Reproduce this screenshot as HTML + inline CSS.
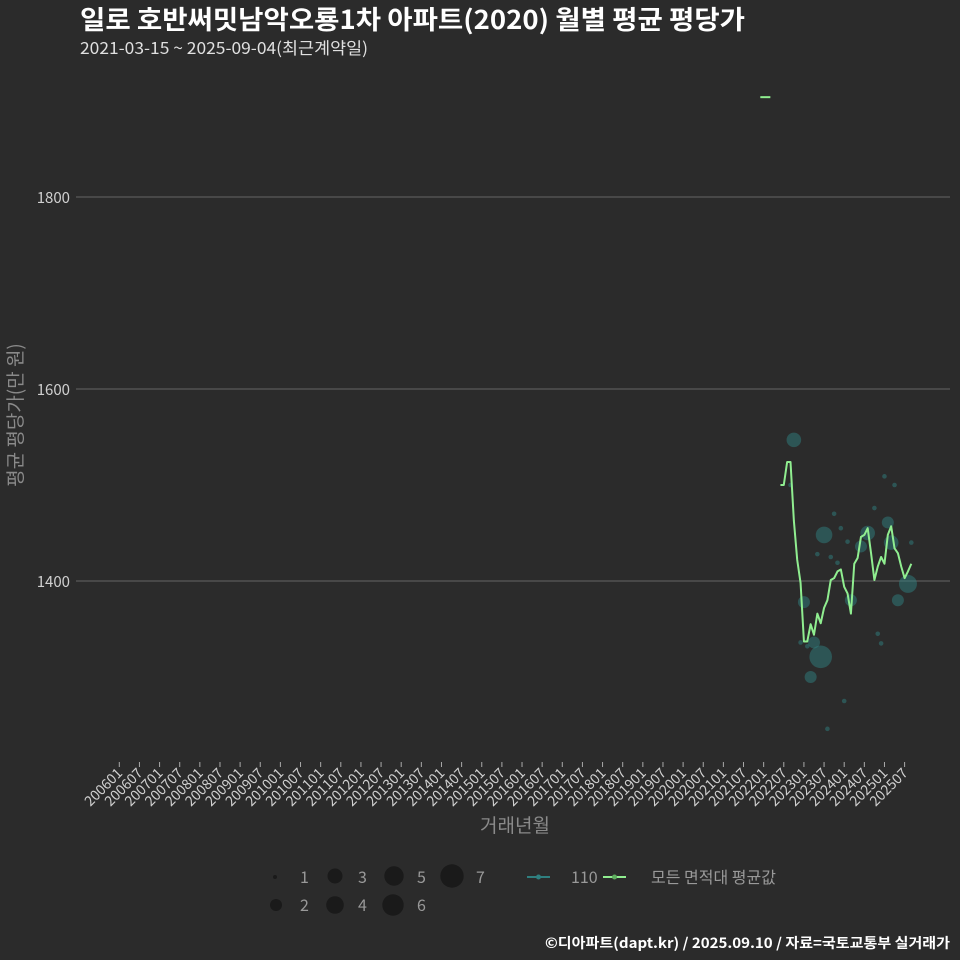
<!DOCTYPE html>
<html><head><meta charset="utf-8">
<style>
body{margin:0;background:#2b2b2b;}
svg{display:block;font-family:"Noto Sans CJK KR","Liberation Sans",sans-serif;}
</style></head>
<body>
<svg id="chart" width="960" height="960" viewBox="0 0 960 960">
<rect width="960" height="960" fill="#2b2b2b"/>
<text x="80" y="29" fill="#ffffff" font-size="26" font-weight="bold" textLength="665" lengthAdjust="spacingAndGlyphs">일로 호반써밋남악오룡1차 아파트(2020) 월별 평균 평당가</text>
<text x="80" y="54" fill="#e0e0e0" font-size="16.5" textLength="288" lengthAdjust="spacingAndGlyphs">2021-03-15 ~ 2025-09-04(최근계약일)</text>
<g id="grid"></g>
<g id="xaxis"></g>
<g id="bubbles"></g>
<g id="lines"></g>
<text transform="translate(22,415) rotate(-90)" text-anchor="middle" fill="#8a8a8a" font-size="19">평균 평당가(만 원)</text>
<text x="515" y="832" text-anchor="middle" fill="#8a8a8a" font-size="19">거래년월</text>
<g id="legend" font-size="16" fill="#999">
<g><circle cx="275" cy="877" r="2" fill="#1a1a1a"/><text x="300" y="883">1</text></g>
<g><circle cx="276" cy="905" r="6" fill="#1a1a1a"/><text x="300" y="911">2</text></g>
<g><circle cx="335" cy="876" r="7.5" fill="#1a1a1a"/><text x="358" y="883">3</text></g>
<g><circle cx="335" cy="905" r="8.8" fill="#1a1a1a"/><text x="358" y="911">4</text></g>
<g><circle cx="394" cy="876" r="9.7" fill="#1a1a1a"/><text x="417" y="883">5</text></g>
<g><circle cx="393" cy="905" r="10.7" fill="#1a1a1a"/><text x="417" y="911">6</text></g>
<g><circle cx="452" cy="876" r="11.7" fill="#1a1a1a"/><text x="476" y="883">7</text></g>
<g><line x1="527" y1="877" x2="550" y2="877" stroke="#2f7f7f" stroke-width="2"/><circle cx="538.5" cy="877" r="2.5" fill="#2f7f7f"/><text x="571" y="883">110</text></g>
<g><line x1="603" y1="877" x2="626" y2="877" stroke="#90ee90" stroke-width="2"/><circle cx="614.5" cy="877" r="2.5" fill="#5fae5f"/><text x="651" y="883">모든 면적대 평균값</text></g>
</g>
<text x="950" y="948" text-anchor="end" fill="#ffffff" font-size="14" font-weight="bold" textLength="405" lengthAdjust="spacingAndGlyphs">©디아파트(dapt.kr) / 2025.09.10 / 자료=국토교통부 실거래가</text>
</svg>
<script>
const yTicks=[1400,1600,1800];
const lineStart='2022-06';
const lineValues=[1500,1500,1524,1524,1463,1422,1398,1337,1337,1355,1344,1366,1356,1372,1380,1401,1403,1410,1412,1394,1387,1366,1418,1424,1446,1448,1455,1429,1401,1415,1425,1418,1448,1457,1434,1429,1415,1403,1410,1418];
const topMonths=['2021-12','2022-03'];
const topValues=[1904,1904];
const bubbleMonths=['2022-10','2022-09','2023-10','2023-12','2023-07','2024-02','2023-05','2023-09','2023-11','2025-01','2025-04','2024-10','2025-02','2024-08','2024-06','2025-03','2025-09','2025-08','2023-01','2024-03','2025-05','2024-11','2024-12','2022-12','2023-02','2023-04','2023-06','2023-03','2024-01','2023-08'];
const bubbleValues=[1547,1500,1470,1455,1448,1441,1428,1425,1419,1509,1500,1476,1461,1450,1436,1440,1440,1397,1378,1380,1380,1345,1335,1336,1332,1336,1321,1300,1275,1246];
const bubbleCounts=[3,1,1,1,4,1,1,1,1,1,1,1,2,3,2,3,1,5,2,2,2,1,1,1,1,2,7,2,1,1];
const NS='http://www.w3.org/2000/svg';
const radii=[0,2.3,6,7.3,8.3,9,10.2,11.3];
function mIdx(s){const [y,m]=s.split('-').map(Number);return (y-2006)*12+(m-1);}
function xS(i){return 119.3+i*3.356;}
function yS(v){return 581-(v-1400)*0.96;}
function el(t,a,p){const e=document.createElementNS(NS,t);for(const k in a)e.setAttribute(k,a[k]);p.appendChild(e);return e;}
const grid=document.getElementById('grid');
yTicks.forEach(v=>{
 const l=el('line',{x1:76,x2:950,y1:yS(v),y2:yS(v),stroke:'#666','stroke-width':1},grid);
 
 
 const t=el('text',{x:70,y:yS(v)+6,'text-anchor':'end',fill:'#d0d0d0','font-size':15},grid);
 t.textContent=v;
 
 
});
const xa=document.getElementById('xaxis');
for(let i=0;i<=234;i+=6){
 const x=xS(i);const y=2006+Math.floor(i/12);const m=i%12+1;
 const lab=''+y+(m<10?'0':'')+m;
 const tk=el('line',{x1:x,x2:x,y1:762,y2:767,stroke:'#aaa'},xa);
 
 
 const t=el('text',{transform:`translate(${x+4},${774}) rotate(-45)`,'text-anchor':'end',fill:'#d0d0d0','font-size':14},xa);
 t.textContent=lab;
 
 
}
const bg=document.getElementById('bubbles');
bubbleMonths.forEach((m,i)=>{
 const c=el('circle',{cx:xS(mIdx(m)),cy:yS(bubbleValues[i]),r:radii[bubbleCounts[i]],fill:'#2f7f7f','fill-opacity':0.5},bg);
 
 
});
const lg=document.getElementById('lines');
const s0=mIdx(lineStart);
const pts=lineValues.map((v,i)=>xS(s0+i)+','+yS(v)).join(' ');
const pl=el('polyline',{points:pts,fill:'none',stroke:'#90ee90','stroke-width':2,'stroke-linejoin':'round'},lg);


const tp=topMonths.map((m,i)=>xS(mIdx(m))+','+yS(topValues[i])).join(' ');
const pl2=el('polyline',{points:tp,fill:'none',stroke:'#90ee90','stroke-width':2},lg);


</script>
</body></html>
